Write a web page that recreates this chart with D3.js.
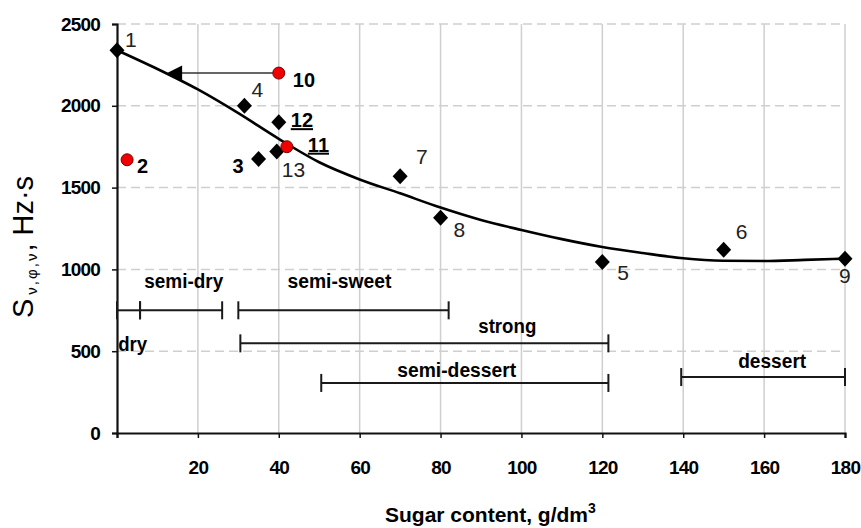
<!DOCTYPE html>
<html><head><meta charset="utf-8">
<script src="https://cdn.jsdelivr.net/npm/d3@7/dist/d3.min.js"></script>
<style>
html,body{margin:0;padding:0;background:#fff;}
svg{display:block;}
</style></head><body>
<svg id="chart" width="861" height="528"></svg>
<script>
// ---------- data ----------
const pointIds   = ["1","2","3","4","5","6","7","8","9","10","11","12","13"];
const pointSugar = [0, 2.5, 35, 31.5, 120, 150, 70, 80, 180, 40, 42, 40, 39.5];
const pointS     = [2340, 1670, 1675, 2000, 1045, 1120, 1570, 1315, 1065, 2200, 1750, 1900, 1720];
const pointKind  = ["diamond","circle","diamond","diamond","diamond","diamond","diamond","diamond","diamond","circle","circle","diamond","diamond"];

const trendSugar = [0,10,20,30,40,50,60,70,80,90,100,110,120,130,140,150,160,170,180];
const trendS     = [2340,2225,2100,1955,1798,1655,1550,1465,1378,1302,1241,1185,1137,1100,1068,1053,1051,1058,1066];

const arrowFromSugar = 40, arrowToSugar = 12.4, arrowS = 2200;

const rangeNames = ["dry","semi-dry","semi-sweet","strong","semi-dessert","dessert"];
const rangeFrom  = [0, 5.7, 30, 30.5, 50.5, 139.5];
const rangeTo    = [5.7, 26, 82, 121.5, 121.5, 180];
const rangeLevel = [750, 750, 750, 548, 306, 342];

const xTicks = [0,20,40,60,80,100,120,140,160,180];
const yTicks = [0,500,1000,1500,2000,2500];

// ---------- layout ----------
const W = 861, H = 528;
const x = d3.scaleLinear().domain([0,180]).range([117,845]);
const y = d3.scaleLinear().domain([0,2500]).range([433,24]);
const FONT = "'Liberation Sans', Arial, sans-serif";

const pointLabelLayout = {
  "1":{dx:8,dy:-3,bold:false}, "2":{dx:10,dy:13,bold:true}, "3":{dx:-26,dy:14,bold:true},
  "4":{dx:7,dy:-9,bold:false}, "5":{dx:15,dy:18,bold:false}, "6":{dx:12,dy:-11,bold:false},
  "7":{dx:16,dy:-12,bold:false}, "8":{dx:13,dy:19,bold:false}, "9":{dx:-6,dy:24,bold:false},
  "10":{dx:14,dy:14,bold:true}, "11":{dx:21,dy:5,bold:true,under:true},
  "12":{dx:12,dy:5,bold:true,under:true}, "13":{dx:5,dy:25,bold:false}
};
const rangeLabelLayout = {
  "dry":{x:0.3,dy:41,anchor:"start",len:29},
  "semi-dry":{x:16.5,dy:-22,anchor:"middle",len:79},
  "semi-sweet":{x:55,dy:-22,anchor:"middle",len:104},
  "strong":{x:96.5,dy:-10,anchor:"middle",len:58},
  "semi-dessert":{x:84,dy:-6,anchor:"middle",len:119},
  "dessert":{x:162,dy:-9,anchor:"middle",len:68}
};

const svg = d3.select("#chart");
svg.append("rect").attr("width",W).attr("height",H).attr("fill","#fff");

// ---------- grid ----------
const grid = svg.append("g");
grid.selectAll("line.v").data(xTicks.filter(d=>d>0)).join("line")
  .attr("x1",d=>x(d)).attr("x2",d=>x(d)).attr("y1",y(0)).attr("y2",y(2500))
  .attr("stroke","#cfcfcf").attr("stroke-width",1.5);
grid.selectAll("line.h").data(yTicks.filter(d=>d>0)).join("line")
  .attr("x1",x(0)).attr("x2",x(180)).attr("y1",d=>y(d)).attr("y2",d=>y(d))
  .attr("stroke","#cfcfcf").attr("stroke-width",1.5).attr("stroke-dasharray","9,5");

// ---------- axes ----------
const yAxis = svg.append("g").attr("transform",`translate(${x(0)},0)`)
  .call(d3.axisLeft(y).tickValues(yTicks).tickSize(5).tickPadding(12).tickFormat(d3.format("d")));
const xAxis = svg.append("g").attr("transform",`translate(0,${y(0)})`)
  .call(d3.axisBottom(x).tickValues(xTicks).tickSize(5).tickPadding(23).tickFormat(d=>d===0?"":d));
[yAxis,xAxis].forEach(a=>{
  a.select(".domain").attr("stroke","#111").attr("stroke-width",2.2);
  a.selectAll(".tick line").attr("stroke","#111").attr("stroke-width",1.5);
  a.selectAll(".tick text").attr("font-family",FONT).attr("font-weight","bold")
    .attr("font-size",19).attr("letter-spacing",-0.8).attr("fill","#000");
});

// ---------- range bars ----------
const rg = svg.append("g").attr("stroke","#1a1a1a").attr("stroke-width",2);
rangeNames.forEach((n,i)=>{
  const yy = y(rangeLevel[i]);
  rg.append("line").attr("x1",x(rangeFrom[i])).attr("x2",x(rangeTo[i])).attr("y1",yy).attr("y2",yy);
  [rangeFrom[i],rangeTo[i]].forEach(v=>{
    rg.append("line").attr("x1",x(v)).attr("x2",x(v)).attr("y1",yy-9).attr("y2",yy+9);
  });
  const L = rangeLabelLayout[n];
  svg.append("text").attr("x",x(L.x)).attr("y",yy+L.dy).attr("text-anchor",L.anchor)
    .attr("font-family",FONT).attr("font-weight","bold").attr("font-size",20)
    .attr("textLength",L.len).attr("lengthAdjust","spacingAndGlyphs")
    .attr("fill","#000").text(n);
});

// ---------- trend curve ----------
const trend = trendSugar.map((s,i)=>[s,trendS[i]]);
svg.append("path").datum(trend)
  .attr("d",d3.line().x(d=>x(d[0])).y(d=>y(d[1])).curve(d3.curveMonotoneX))
  .attr("fill","none").attr("stroke","#000").attr("stroke-width",2.6);

// ---------- arrow ----------
const ay = y(arrowS);
svg.append("line").attr("x1",x(arrowFromSugar)-6).attr("x2",x(arrowToSugar)+14)
  .attr("y1",ay).attr("y2",ay).attr("stroke","#333").attr("stroke-width",1.5);
svg.append("path")
  .attr("d",`M${x(arrowToSugar)},${ay} L${x(arrowToSugar)+15},${ay-7.5} L${x(arrowToSugar)+15},${ay+7.5} Z`)
  .attr("fill","#000");

// ---------- points ----------
const pts = pointIds.map((id,i)=>({id,s:pointSugar[i],v:pointS[i],k:pointKind[i]}));
svg.append("g").selectAll("path").data(pts.filter(d=>d.k==="diamond")).join("path")
  .attr("transform",d=>`translate(${x(d.s)},${y(d.v)})`)
  .attr("d","M0,-8 L7.5,0 L0,8 L-7.5,0 Z").attr("fill","#000");
svg.append("g").selectAll("circle").data(pts.filter(d=>d.k==="circle")).join("circle")
  .attr("cx",d=>x(d.s)).attr("cy",d=>y(d.v)).attr("r",6)
  .attr("fill","#f00000").attr("stroke","#7a0000").attr("stroke-width",1);

// ---------- point labels ----------
pts.forEach(d=>{
  const L = pointLabelLayout[d.id];
  svg.append("text").attr("x",x(d.s)+L.dx).attr("y",y(d.v)+L.dy)
    .attr("font-family",FONT).attr("font-size",L.bold?20:21)
    .attr("font-weight",L.bold?"bold":"normal")
    .attr("text-decoration",L.under?"underline":null)
    .attr("fill", L.bold?"#000":"#222").text(d.id);
});

// ---------- axis titles ----------
const xt = svg.append("text").attr("x",385).attr("y",522)
  .attr("font-family",FONT).attr("font-weight","bold").attr("font-size",21).attr("fill","#000");
xt.append("tspan").text("Sugar content, g/dm");
xt.append("tspan").attr("font-size",14).attr("dy",-9).text("3");

const yt = svg.append("text").attr("transform","translate(33,318) rotate(-90)")
  .attr("font-family",FONT).attr("font-size",29).attr("fill","#000");
yt.append("tspan").text("S");
yt.append("tspan").attr("font-size",15).attr("dy",4).attr("dx",4).attr("letter-spacing",2).text("ν,φ,ν");
yt.append("tspan").attr("dy",-4).text(", Hz·s");
</script>
</body></html>
